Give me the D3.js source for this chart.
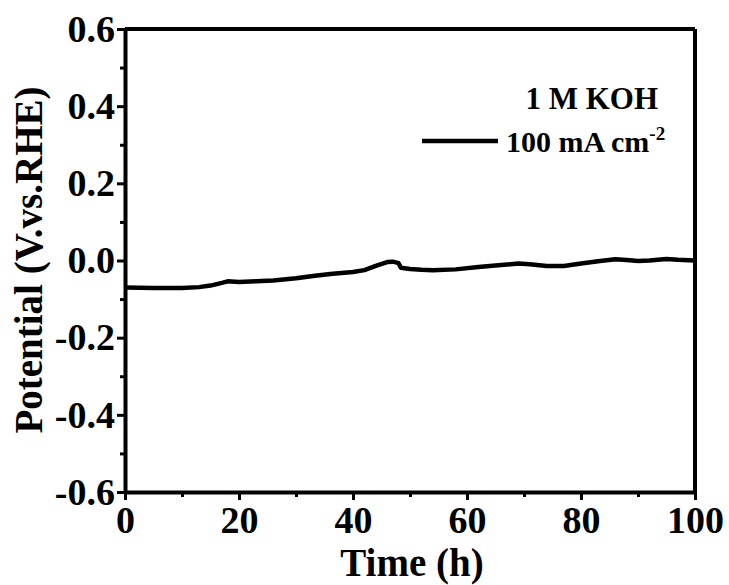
<!DOCTYPE html>
<html>
<head>
<meta charset="utf-8">
<script src="https://cdn.jsdelivr.net/npm/d3@7"></script>
<style>
  body { margin: 0; background: #fff; }
  svg { display: block; }
  text { font-family: "Liberation Serif", "Times New Roman", serif; font-weight: bold; fill: #000; }
</style>
</head>
<body>
<svg width="729" height="585"></svg>
<script>
// stability test at 100 mA cm-2 in 1 M KOH
var times = [0,5,10,13,15,17,18,20,23,26,30,33,36,40,42,44,46,47,48,48.4,50,52,54,58,62,65,69,71,74,77,80,83,86,88,90,92,95,97,100];
var potential = [-0.070,-0.071,-0.071,-0.069,-0.065,-0.058,-0.054,-0.056,-0.054,-0.052,-0.046,-0.040,-0.035,-0.030,-0.025,-0.014,-0.004,-0.003,-0.007,-0.019,-0.022,-0.024,-0.025,-0.023,-0.017,-0.013,-0.008,-0.010,-0.014,-0.014,-0.008,-0.002,0.003,0.001,-0.001,0.000,0.004,0.002,0.000];
var xTicks = [0, 20, 40, 60, 80, 100];
var yTicks = [-0.6, -0.4, -0.2, 0.0, 0.2, 0.4, 0.6];

var svg = d3.select("svg");
var margin = {top: 29, right: 34, bottom: 93, left: 125},
    width = 729 - margin.left - margin.right,
    height = 585 - margin.top - margin.bottom;

var data = times.map(function(t, i) { return {t: t, v: potential[i]}; });

var x = d3.scaleLinear().domain([0, 100]).range([0, width]),
    y = d3.scaleLinear().domain([-0.6, 0.6]).range([height, 0]);

var g = svg.append("g")
  .attr("transform", "translate(" + margin.left + "," + margin.top + ")");

// minor ticks
g.append("g")
  .attr("transform", "translate(0," + height + ")")
  .call(d3.axisBottom(x).tickValues(d3.range(10, 100, 20)).tickSize(5).tickFormat(""))
  .call(function(a) { a.select(".domain").remove(); a.selectAll("line").attr("stroke-width", 3); });
g.append("g")
  .call(d3.axisLeft(y).tickValues([-0.5, -0.3, -0.1, 0.1, 0.3, 0.5]).tickSize(5).tickFormat(""))
  .call(function(a) { a.select(".domain").remove(); a.selectAll("line").attr("stroke-width", 3); });

// major axes
var xAxis = g.append("g")
  .attr("transform", "translate(0," + height + ")")
  .call(d3.axisBottom(x).tickValues(xTicks).tickSize(8).tickSizeOuter(0).tickPadding(6));
var yAxis = g.append("g")
  .call(d3.axisLeft(y).tickValues(yTicks).tickSize(8).tickSizeOuter(0).tickPadding(2)
    .tickFormat(function(d) { return d.toFixed(1).replace("\u2212", "-"); }));

[xAxis, yAxis].forEach(function(a) {
  a.attr("font-family", null);
  a.select(".domain").attr("stroke-width", 4);
  a.selectAll("line").attr("stroke-width", 3);
  a.selectAll("text")
    .style("font-family", '"Liberation Serif", "Times New Roman", serif')
    .style("font-weight", "bold")
    .style("font-size", "38px")
    .attr("fill", "#000");
});
xAxis.selectAll("text").attr("dy", "0.71em");

// top and right frame
g.append("line").attr("x1", 0).attr("x2", width).attr("y1", 0).attr("y2", 0)
  .attr("stroke", "#000").attr("stroke-width", 4);
g.append("line").attr("x1", width).attr("x2", width).attr("y1", 0).attr("y2", height)
  .attr("stroke", "#000").attr("stroke-width", 4);

// data line
g.append("path")
  .datum(data)
  .attr("fill", "none")
  .attr("stroke", "#000")
  .attr("stroke-width", 4.5)
  .attr("stroke-linejoin", "round")
  .attr("d", d3.line().x(function(d) { return x(d.t); }).y(function(d) { return y(d.v); }));

// axis titles
svg.append("text")
  .attr("x", 412).attr("y", 576)
  .attr("text-anchor", "middle")
  .style("font-size", "39px")
  .text("Time (h)");

svg.append("text")
  .attr("transform", "translate(42,260) rotate(-90)")
  .attr("text-anchor", "middle")
  .style("font-size", "39px")
  .text("Potential (V.vs.RHE)");

// legend
svg.append("text")
  .attr("x", 658).attr("y", 109)
  .attr("text-anchor", "end")
  .style("font-size", "31px")
  .text("1 M KOH");

svg.append("line")
  .attr("x1", 422).attr("x2", 498).attr("y1", 141).attr("y2", 141)
  .attr("stroke", "#000").attr("stroke-width", 4.5);

var lt = svg.append("text")
  .attr("x", 506).attr("y", 152)
  .style("font-size", "30px");
lt.append("tspan").text("100 mA cm");
lt.append("tspan").attr("dy", -12).style("font-size", "19px").text("-2");
</script>
</body>
</html>
